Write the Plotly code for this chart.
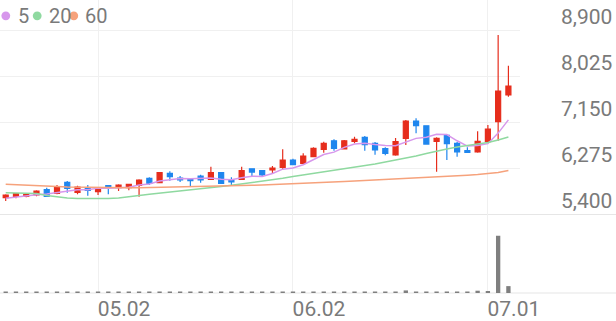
import plotly.graph_objects as go

dates = [
    "2025-04-18", "2025-04-21", "2025-04-22", "2025-04-23", "2025-04-24", "2025-04-25",
    "2025-04-28", "2025-04-29", "2025-04-30", "2025-05-02", "2025-05-07", "2025-05-08",
    "2025-05-09", "2025-05-12", "2025-05-13", "2025-05-14", "2025-05-15", "2025-05-16",
    "2025-05-19", "2025-05-20", "2025-05-21", "2025-05-22", "2025-05-23", "2025-05-26",
    "2025-05-27", "2025-05-28", "2025-05-29", "2025-05-30", "2025-06-02", "2025-06-04",
    "2025-06-05", "2025-06-09", "2025-06-10", "2025-06-11", "2025-06-12", "2025-06-13",
    "2025-06-16", "2025-06-17", "2025-06-18", "2025-06-19", "2025-06-20", "2025-06-23",
    "2025-06-24", "2025-06-25", "2025-06-26", "2025-06-27", "2025-06-30", "2025-07-01",
    "2025-07-02", "2025-07-03",
]

open_ = [5720, 5747, 5747, 5772, 5873, 5804, 6014, 5823, 5900, 5835,
         5949, 5911, 5911, 5957, 6090, 6006, 6186, 6096, 6083, 6134,
         6071, 6197, 6058, 6071, 6273, 6235, 6249, 6300, 6439, 6376,
         6502, 6643, 6807, 6649, 6796, 6872, 6758, 6655, 6535, 6853,
         7183, 7093, 6796, 6910, 6758, 6617, 6592, 6788, 7170, 7679]
high = [5785, 5810, 5790, 5861, 5911, 5963, 6039, 5949, 5963, 5911,
        5955, 5976, 5987, 6071, 6109, 6210, 6224, 6134, 6090, 6159,
        6312, 6205, 6109, 6312, 6280, 6249, 6325, 6643, 6465, 6567,
        6681, 6788, 6834, 6820, 6884, 6897, 6783, 6681, 6859, 7202,
        7235, 7100, 6872, 6922, 6783, 6681, 6987, 7107, 8823, 8238]
low = [5657, 5709, 5730, 5747, 5745, 5785, 5816, 5785, 5759, 5772,
       5785, 5848, 5862, 5740, 5963, 5995, 6045, 6020, 5930, 6006,
       6058, 5990, 5943, 6058, 6134, 6121, 6186, 6262, 6338, 6363,
       6491, 6579, 6617, 6643, 6758, 6617, 6540, 6529, 6522, 6725,
       6949, 6740, 6216, 6439, 6502, 6586, 6579, 6777, 6807, 7647]
close = [5772, 5797, 5785, 5848, 5747, 5930, 5900, 5924, 5862, 5900,
         5911, 5963, 5976, 6058, 5995, 6197, 6121, 6058, 6045, 6058,
         6197, 5995, 6020, 6235, 6210, 6153, 6287, 6439, 6350, 6516,
         6662, 6758, 6662, 6807, 6834, 6731, 6630, 6567, 6788, 7183,
         7093, 6744, 6853, 6750, 6592, 6586, 6796, 7030, 7755, 7851]

ma5 = [5710, 5735, 5755, 5775, 5790, 5821, 5842, 5870, 5873, 5903,
       5899, 5912, 5922, 5962, 5981, 6038, 6069, 6086, 6083, 6096,
       6096, 6071, 6063, 6101, 6131, 6123, 6181, 6265, 6288, 6349,
       6451, 6545, 6590, 6681, 6745, 6758, 6733, 6714, 6710, 6780,
       6852, 6875, 6932, 6925, 6806, 6705, 6715, 6751, 6952, 7204]
ma20 = [5816, 5814, 5810, 5799, 5762, 5734, 5715, 5707, 5705, 5705,
        5707, 5715, 5734, 5762, 5787, 5806, 5825, 5844, 5863, 5886,
        5909, 5934, 5957, 5982, 6010, 6039, 6064, 6090, 6123, 6153,
        6186, 6214, 6243, 6272, 6298, 6325, 6363, 6401, 6436, 6472,
        6516, 6563, 6611, 6649, 6687, 6716, 6748, 6773, 6821, 6878]
ma60 = [5976, 5970, 5963, 5953, 5943, 5933, 5924, 5919, 5915, 5912,
        5909, 5908, 5908, 5910, 5913, 5916, 5919, 5922, 5926, 5930,
        5934, 5939, 5945, 5951, 5957, 5963, 5970, 5976, 5982, 5991,
        6001, 6010, 6020, 6030, 6039, 6048, 6058, 6066, 6074, 6082,
        6090, 6102, 6113, 6125, 6138, 6150, 6163, 6182, 6201, 6239]

volume = [120000, 100000, 90000, 130000, 150000, 140000, 160000, 110000, 100000, 120000,
          110000, 100000, 90000, 150000, 130000, 160000, 140000, 110000, 100000, 120000,
          170000, 150000, 110000, 160000, 130000, 120000, 140000, 220000, 160000, 150000,
          180000, 200000, 160000, 150000, 140000, 170000, 150000, 140000, 200000, 450000,
          260000, 220000, 250000, 200000, 180000, 160000, 400000, 350000, 10000000, 1200000]

price_ticks = [5400, 6275, 7150, 8025, 8900]
date_ticks = ["2025-05-02", "2025-06-02", "2025-07-01"]
date_labels = ["05.02", "06.02", "07.01"]

ma_names = ["5", "20", "60"]
ma_colors = ["#d797ec", "#8fd9a0", "#f6a27c"]
UP = "#e62d1c"
DOWN = "#1f86ee"
GRID = "#f0f0f0"
TXT = "#7a7a7a"

fig = go.Figure()
fig.add_trace(go.Candlestick(
    x=dates, open=open_, high=high, low=low, close=close,
    increasing=dict(line=dict(color=UP, width=1.2), fillcolor=UP),
    decreasing=dict(line=dict(color=DOWN, width=1.2), fillcolor=DOWN),
    xaxis="x", yaxis="y", showlegend=False, whiskerwidth=0,
))
for name, vals, col in zip(ma_names, [ma5, ma20, ma60], ma_colors):
    fig.add_trace(go.Scatter(x=dates, y=vals, mode="lines", name=name,
                             line=dict(color=col, width=1.5),
                             xaxis="x", yaxis="y", showlegend=False))
fig.add_trace(go.Bar(x=dates, y=volume, marker=dict(color="#7f7f7f", line=dict(width=0)),
                     width=0.42, xaxis="x2", yaxis="y2", showlegend=False))

W, H = 616, 321
xdom = [0, 520 / W]
price_bottom = (H - 214.5) / H
vol_bottom = (H - 293) / H
xr = [-0.556, 50.13]

fig.update_layout(
    width=W, height=H,
    margin=dict(l=0, r=0, t=0, b=0, autoexpand=False),
    paper_bgcolor="white", plot_bgcolor="white",
    font=dict(family="Roboto", color=TXT, size=20),
    xaxis=dict(domain=xdom, type="category", range=xr, showticklabels=False,
               tickvals=date_ticks, showgrid=True, gridcolor=GRID, gridwidth=1,
               rangeslider=dict(visible=False), ticks="", zeroline=False, anchor="y",
               automargin=False),
    yaxis=dict(domain=[price_bottom, 1], range=[5400, 9491], side="right", anchor="x",
               tickvals=price_ticks, tickformat=",", showgrid=True, gridcolor=GRID,
               ticks="", zeroline=False, ticklabelposition="outside",
               ticklabelstandoff=40, ticklabelshift=-14, automargin=False,
               tickfont=dict(size=21, color=TXT)),
    xaxis2=dict(domain=xdom, type="category", range=xr, matches="x", anchor="y2",
                tickvals=date_ticks, ticktext=date_labels, showgrid=True, gridcolor=GRID,
                ticks="", zeroline=False, ticklabelshift=26, ticklabelstandoff=1,
                automargin=False, tickfont=dict(size=21, color=TXT)),
    yaxis2=dict(domain=[vol_bottom, price_bottom], range=[0, 13700000], anchor="x2",
                showticklabels=False, showgrid=False, zeroline=False, ticks="",
                automargin=False),
    bargap=0.5,
)

# panel separator lines spanning full width
for yv in [price_bottom, vol_bottom]:
    fig.add_shape(type="line", xref="paper", yref="paper", x0=0, x1=1, y0=yv, y1=yv,
                  line=dict(color="#e6e6e6", width=1.2), layer="below")

# legend: coloured dots + labels
legend_dot_x = [5.8, 37.2, 73.8]
legend_txt_x = [15.5, 46.5, 83.0]
for name, col, dx, tx in zip(ma_names, ma_colors, legend_dot_x, legend_txt_x):
    r = 4.4
    fig.add_shape(type="circle", xref="paper", yref="paper",
                  x0=(dx - r) / W, x1=(dx + r) / W,
                  y0=(H - 15.8 - r) / H, y1=(H - 15.8 + r) / H,
                  fillcolor=col, line=dict(width=0))
    fig.add_annotation(x=tx / W, y=(H - 15.8) / H, xref="paper", yref="paper",
                       text=name, showarrow=False, xanchor="left", yanchor="middle",
                       font=dict(size=20, color=TXT, family="Roboto"))

fig.write_html("out.html")
